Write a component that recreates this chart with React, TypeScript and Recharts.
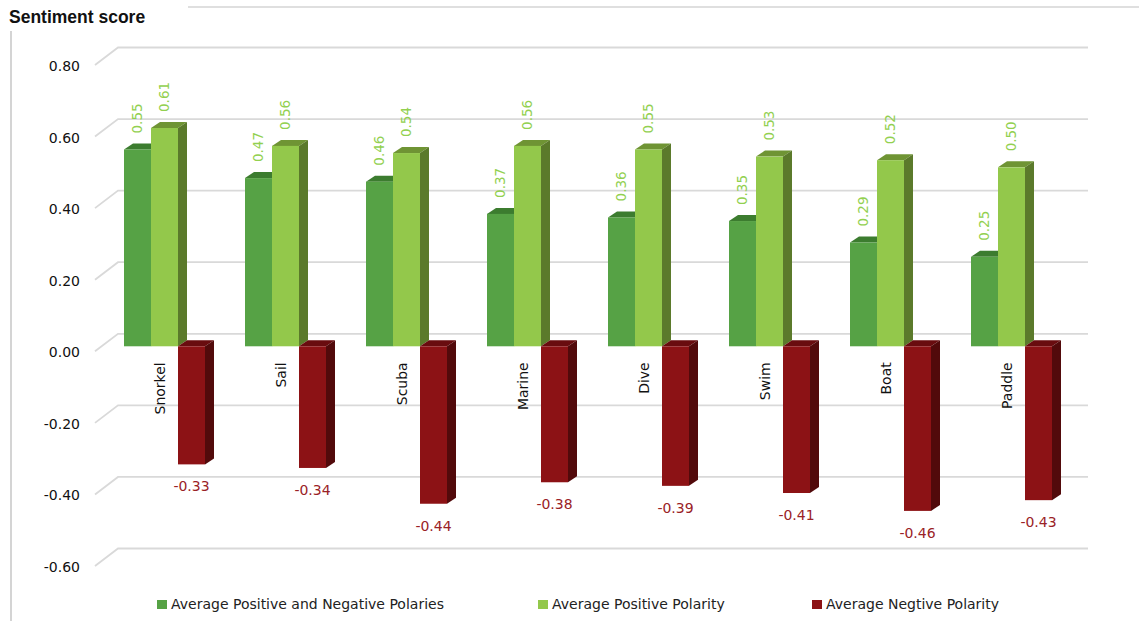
import React from 'react';
import { BarChart, Bar, XAxis, YAxis, CartesianGrid, Legend, LabelList } from 'recharts';

const categories = ['Snorkel', 'Sail', 'Scuba', 'Marine', 'Dive', 'Swim', 'Boat', 'Paddle'];
const combinedPolarity = [0.55, 0.47, 0.46, 0.37, 0.36, 0.35, 0.29, 0.25];
const positivePolarity = [0.61, 0.56, 0.54, 0.56, 0.55, 0.53, 0.52, 0.5];
const negativePolarity = [-0.33, -0.34, -0.44, -0.38, -0.39, -0.41, -0.46, -0.43];
const yTicks = [-0.6, -0.4, -0.2, 0, 0.2, 0.4, 0.6, 0.8];
const seriesNames = [
  'Average Positive and Negative Polaries',
  'Average Positive Polarity',
  'Average Negtive Polarity',
];

const data = categories.map((category, i) => ({
  category,
  combined: combinedPolarity[i],
  positive: positivePolarity[i],
  negative: negativePolarity[i],
}));

const W = 1139;
const H = 621;
const PLOT_LEFT = 104;
const PLOT_RIGHT = 1072;
const PLOT_TOP = 60;
const PLOT_BOTTOM = 561;
const Y_MIN = -0.6;
const Y_MAX = 0.8;
const ZERO_Y = PLOT_TOP + (Y_MAX / (Y_MAX - Y_MIN)) * (PLOT_BOTTOM - PLOT_TOP);
const DX = 9;
const DY = 6;
const FONT = '"DejaVu Sans", Verdana, sans-serif';

const COLORS = {
  combined: { front: '#56A245', top: '#3C7C2F', side: '#3C7C2F' },
  positive: { front: '#93C84B', top: '#6F9434', side: '#5B7A2B' },
  negative: { front: '#8C1215', top: '#690C0F', side: '#520A0B' },
};

const make3DShape = (c: { front: string; top: string; side: string }) => (props: any) => {
  const { x, y, width, height } = props;
  if (x == null || y == null) return <g />;
  const t = Math.min(y, y + height);
  const b = Math.max(y, y + height);
  const r = x + width;
  return (
    <g>
      <polygon points={`${x},${t} ${x + DX},${t - DY} ${r + DX},${t - DY} ${r},${t}`} fill={c.top} />
      <polygon points={`${r},${t} ${r + DX},${t - DY} ${r + DX},${b - DY} ${r},${b}`} fill={c.side} />
      <rect x={x} y={t} width={width} height={b - t} fill={c.front} />
    </g>
  );
};

const getBox = (props: any) => {
  const vb = props.viewBox && props.viewBox.width != null ? props.viewBox : props;
  return { x: vb.x, y: vb.y, width: vb.width, height: vb.height };
};

const GreenLabel = (props: any) => {
  const { x, y, width, height } = getBox(props);
  if (x == null) return null;
  const t = Math.min(y, y + height);
  const cx = x + width / 2;
  const ay = t - 16;
  return (
    <text
      x={cx}
      y={ay}
      dy="0.36em"
      transform={`rotate(-90 ${cx} ${ay})`}
      textAnchor="start"
      fill="#92D050"
      fontSize={13.5}
      fontFamily={FONT}
    >
      {Number(props.value).toFixed(2)}
    </text>
  );
};

const RedLabel = (props: any) => {
  const { x, y, width, height } = getBox(props);
  if (x == null) return null;
  const b = Math.max(y, y + height);
  const cx = x + width / 2;
  return (
    <text x={cx} y={b + 27} textAnchor="middle" fill="#9A2226" fontSize={14} fontFamily={FONT}>
      {Number(props.value).toFixed(2)}
    </text>
  );
};

const YTick = (props: any) => {
  const { y, payload } = props;
  return (
    <text x={80} y={y + 11} textAnchor="end" fill="#111" fontSize={14} fontFamily={FONT}>
      {Number(payload.value).toFixed(2)}
    </text>
  );
};

const XTick = (props: any) => {
  const { x, payload } = props;
  const tx = x + 1;
  const ty = ZERO_Y + 16;
  return (
    <text
      x={tx}
      y={ty}
      transform={`rotate(-90 ${tx} ${ty})`}
      textAnchor="end"
      fill="#111"
      fontSize={14}
      fontFamily={FONT}
    >
      {payload.value}
    </text>
  );
};

const gridLine = (p: any) => {
  const { x1, y1, index } = p;
  return (
    <path
      key={`grid-${index}-${y1}`}
      d={`M${x1 - 9},${y1 + 5} L${x1 + 14},${y1 - 12.5} L${PLOT_RIGHT + 16},${y1 - 12.5}`}
      stroke="#d9d9d9"
      strokeWidth={1.8}
      fill="none"
    />
  );
};

const legendX = [157, 538, 812];
const LegendContent = (props: any) => {
  const payload = (props.payload && props.payload.length ? [...props.payload] : []).sort(
    (a: any, b: any) => seriesNames.indexOf(a.value) - seriesNames.indexOf(b.value)
  );
  return (
    <div style={{ position: 'relative', width: W, height: 20 }}>
      {payload.map((item: any, i: number) => (
        <div
          key={`leg-${i}`}
          style={{
            position: 'absolute',
            left: legendX[i],
            top: 0,
            height: 20,
            display: 'flex',
            alignItems: 'center',
            fontFamily: FONT,
            fontSize: 14,
            color: '#222',
            whiteSpace: 'nowrap',
          }}
        >
          <span style={{ display: 'inline-block', width: 10, height: 9, background: item.color, marginRight: 4 }} />
          <span>{item.value}</span>
        </div>
      ))}
    </div>
  );
};

export default function App() {
  return (
    <div style={{ position: 'absolute', left: 0, top: 0, width: W, height: H, background: '#fff', fontFamily: FONT }}>
      <BarChart
        width={W}
        height={H}
        data={data}
        margin={{ top: PLOT_TOP, right: W - PLOT_RIGHT, bottom: H - PLOT_BOTTOM - 20, left: 0 }}
        barGap={0}
      >
        <CartesianGrid vertical={false} horizontal={gridLine} />
        <XAxis dataKey="category" axisLine={false} tickLine={false} height={20} tick={<XTick />} interval={0} />
        <YAxis
          width={PLOT_LEFT}
          domain={[Y_MIN, Y_MAX]}
          ticks={yTicks}
          axisLine={false}
          tickLine={false}
          tick={<YTick />}
          allowDataOverflow
        />
        <Legend
          layout="horizontal"
          verticalAlign="middle"
          align="center"
          content={<LegendContent />}
          wrapperStyle={{ position: 'absolute', top: 594, left: 0, width: W, height: 20 }}
        />
        <Bar
          dataKey="combined"
          name={seriesNames[0]}
          fill={COLORS.combined.front}
          barSize={27}
          shape={make3DShape(COLORS.combined)}
          isAnimationActive={false}
        >
          <LabelList dataKey="combined" content={<GreenLabel />} />
        </Bar>
        <Bar
          dataKey="positive"
          name={seriesNames[1]}
          fill={COLORS.positive.front}
          barSize={27}
          shape={make3DShape(COLORS.positive)}
          isAnimationActive={false}
        >
          <LabelList dataKey="positive" content={<GreenLabel />} />
        </Bar>
        <Bar
          dataKey="negative"
          name={seriesNames[2]}
          fill={COLORS.negative.front}
          barSize={27}
          shape={make3DShape(COLORS.negative)}
          isAnimationActive={false}
        >
          <LabelList dataKey="negative" content={<RedLabel />} />
        </Bar>
      </BarChart>
      <svg
        width={W}
        height={H}
        style={{ position: 'absolute', left: 0, top: 0, pointerEvents: 'none' }}
      >
        <text x={9} y={23} fontFamily='"Liberation Sans", Arial, sans-serif' fontWeight="bold" fontSize={17.5} fill="#111">
          Sentiment score
        </text>
        <line x1={188} y1={7} x2={W} y2={7} stroke="#d4d4d4" strokeWidth={1.5} />
        <line x1={11} y1={31} x2={11} y2={H} stroke="#d4d4d4" strokeWidth={2} />
      </svg>
    </div>
  );
}
